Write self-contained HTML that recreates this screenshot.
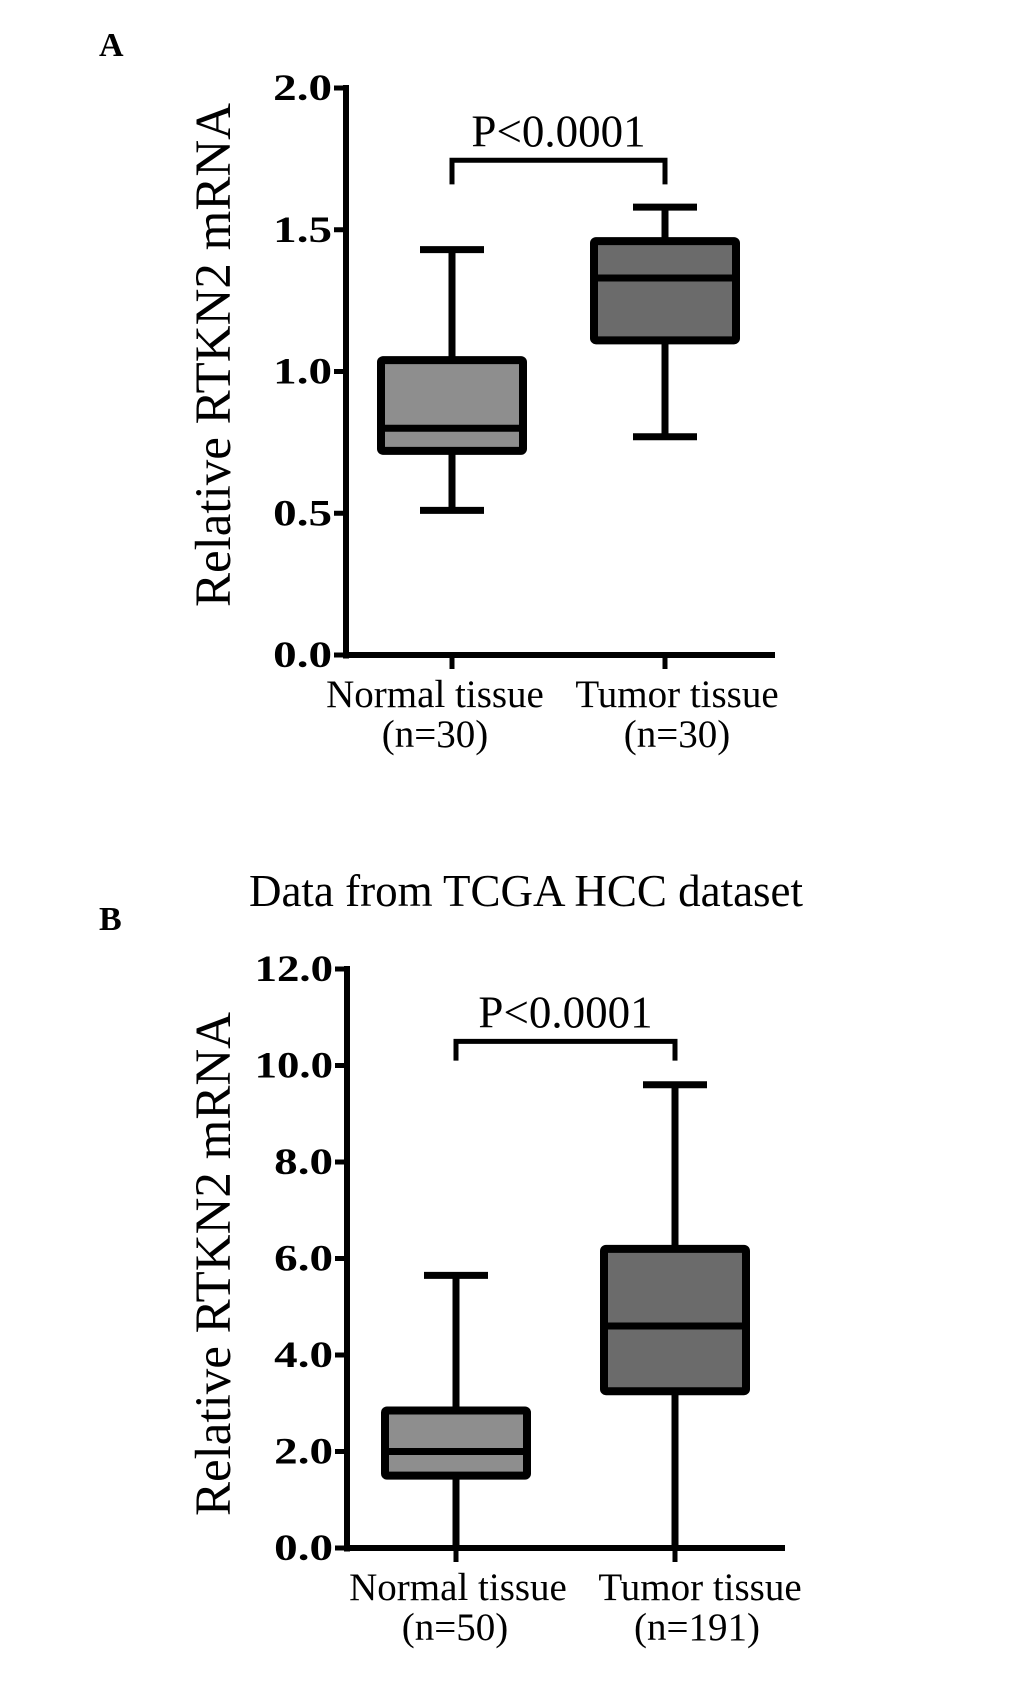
<!DOCTYPE html>
<html><head><meta charset="utf-8"><style>
html,body{margin:0;padding:0;background:#fff;}
svg{display:block;font-family:"Liberation Serif",serif;}
</style></head><body>
<svg id="fig" width="1033" height="1692" viewBox="0 0 1033 1692"></svg>
<script>
const categoriesA = ["Normal tissue", "Tumor tissue"];
const countsA = ["(n=30)", "(n=30)"];
const minA = [0.51, 0.77];
const q1A = [0.72, 1.11];
const medA = [0.80, 1.33];
const q3A = [1.04, 1.46];
const maxA = [1.43, 1.58];
const ticksA = [0, 0.5, 1.0, 1.5, 2.0];
const tickLabelsA = ["0.0", "0.5", "1.0", "1.5", "2.0"];

const categoriesB = ["Normal tissue", "Tumor tissue"];
const countsB = ["(n=50)", "(n=191)"];
const minB = [0, 0];
const q1B = [1.5, 3.25];
const medB = [2.0, 4.6];
const q3B = [2.85, 6.2];
const maxB = [5.65, 9.6];
const ticksB = [0, 2, 4, 6, 8, 10, 12];
const tickLabelsB = ["0.0", "2.0", "4.0", "6.0", "8.0", "10.0", "12.0"];

const NS = "http://www.w3.org/2000/svg";
const svg = document.getElementById("fig");
function mk(tag, attrs, parent, text) {
  const e = document.createElementNS(NS, tag);
  for (const k in attrs) e.setAttribute(k, attrs[k]);
  if (text !== undefined) e.textContent = text;
  (parent || svg).appendChild(e);
  return e;
}
const fills = ["#8e8e8e", "#6b6b6b"];

function drawChart(prefix, cfg) {
  const g = mk("g", {});
  
  
  const y = v => cfg.y0 - (v - cfg.vmin) / (cfg.vmax - cfg.vmin) * (cfg.y0 - cfg.yTop);
  const x = i => cfg.cx[i];
  const ya = mk("line", {x1: cfg.ax, y1: y(cfg.vmax) - 3, x2: cfg.ax, y2: cfg.y0 + 3.5, stroke: "#000", "stroke-width": 6}, g);
  
  
  const xa = mk("line", {x1: cfg.ax - 3, y1: cfg.y0, x2: cfg.xEnd, y2: cfg.y0, stroke: "#000", "stroke-width": 6}, g);
  
  
  cfg.ticks.forEach((t, i) => {
    mk("line", {x1: cfg.ax - 12, y1: y(t), x2: cfg.ax, y2: y(t), stroke: "#000", "stroke-width": 5}, g);
    const lab = cfg.tickLabels[i];
    const tl = mk("text", {x: cfg.ax - 14, y: y(t) + 12, "text-anchor": "end", "font-size": 37, "font-weight": "bold",
      textLength: 19.6 * lab.length, lengthAdjust: "spacingAndGlyphs"}, g, lab);
    
    
  });
  const at = mk("text", {x: 0, y: 0, "text-anchor": "middle", "font-size": 51, transform: `translate(${cfg.titleX},${cfg.titleY}) rotate(-90)`}, g, "Relative RTKN2 mRNA");
  
  
  cfg.cats.forEach((c, i) => {
    mk("line", {x1: x(i), y1: cfg.y0, x2: x(i), y2: cfg.y0 + 14, stroke: "#000", "stroke-width": 5}, g);
    const bg = mk("g", {}, g);
    
    
    const hw = cfg.hw, wh = cfg.whw;
    mk("line", {x1: x(i), y1: y(cfg.max[i]), x2: x(i), y2: y(cfg.min[i]), stroke: "#000", "stroke-width": 7}, bg);
    mk("line", {x1: x(i) - wh, y1: y(cfg.max[i]), x2: x(i) + wh, y2: y(cfg.max[i]), stroke: "#000", "stroke-width": 7}, bg);
    if (cfg.min[i] > cfg.vmin) mk("line", {x1: x(i) - wh, y1: y(cfg.min[i]), x2: x(i) + wh, y2: y(cfg.min[i]), stroke: "#000", "stroke-width": 7}, bg);
    mk("rect", {x: x(i) - hw, y: y(cfg.q3[i]), width: 2 * hw, height: y(cfg.q1[i]) - y(cfg.q3[i]), fill: fills[i], stroke: "#000", "stroke-width": 8, rx: 2}, bg);
    mk("line", {x1: x(i) - hw, y1: y(cfg.med[i]), x2: x(i) + hw, y2: y(cfg.med[i]), stroke: "#000", "stroke-width": 7}, bg);
    const cl = mk("text", {x: x(i) + cfg.labDx[i], y: cfg.y0 + 52, "text-anchor": "middle", "font-size": 39}, g, c);
    
    
    const nl = mk("text", {x: x(i) + cfg.nDx[i], y: cfg.y0 + 92, "text-anchor": "middle", "font-size": 39}, g, cfg.counts[i]);
    
    
  });
  const br = mk("path", {d: `M${x(0)},${y(cfg.brLo)} V${y(cfg.brHi)} H${x(1)} V${y(cfg.brLo)}`, fill: "none", stroke: "#000", "stroke-width": 5}, g);
  
  
  const pt = mk("text", {x: (x(0) + x(1)) / 2 + 0, y: y(cfg.brHi) - 14, "text-anchor": "middle", "font-size": 45}, g, "P<0.0001");
  
  
}

const la = mk("text", {x: 99, y: 56, "font-size": 34, "font-weight": "bold"}, svg, "A");


const lb = mk("text", {x: 99, y: 930, "font-size": 34, "font-weight": "bold"}, svg, "B");


const tt = mk("text", {x: 526, y: 906, "text-anchor": "middle", "font-size": 45}, svg, "Data from TCGA HCC dataset");



drawChart("chart-a", {cats: categoriesA, counts: countsA, min: minA, q1: q1A, med: medA, q3: q3A, max: maxA,
  ticks: ticksA, tickLabels: tickLabelsA, vmin: 0, vmax: 2, y0: 655, yTop: 88, ax: 346, xEnd: 775,
  cx: [452, 665], hw: 71, whw: 32, brLo: 1.66, brHi: 1.745, titleX: 230, titleY: 355, labDx: [-17, 12], nDx: [-17, 12]});
drawChart("chart-b", {cats: categoriesB, counts: countsB, min: minB, q1: q1B, med: medB, q3: q3B, max: maxB,
  ticks: ticksB, tickLabels: tickLabelsB, vmin: 0, vmax: 12, y0: 1548, yTop: 969, ax: 347, xEnd: 785,
  cx: [456, 675], hw: 71, whw: 32, brLo: 10.1, brHi: 10.5, titleX: 230, titleY: 1264, labDx: [2, 25], nDx: [-1, 22]});
</script>
</body></html>
